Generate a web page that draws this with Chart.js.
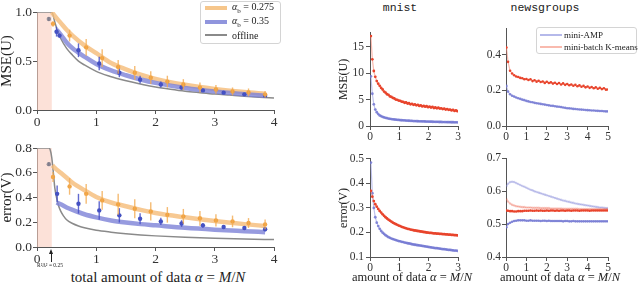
<!DOCTYPE html>
<html>
<head>
<meta charset="utf-8">
<script src="https://cdn.jsdelivr.net/npm/chart.js@4.4.0/dist/chart.umd.min.js"></script>
<style>
  body { margin: 0; background: #fff; }
  #fig { position: relative; width: 640px; height: 285px; overflow: hidden; font-family: "Liberation Serif", serif; color: #222; }
  #fig canvas { position: absolute; z-index: 1; }
  .txt { position: absolute; white-space: nowrap; z-index: 2; }
  .legend { position: absolute; background: rgba(255,255,255,0.9); border: 1px solid #d4d4d4; border-radius: 3px; box-sizing: border-box; z-index: 3; }
  .legend .row { position: absolute; left: 0; right: 0; height: 0; }
  .legend .sw { position: absolute; }
  .legend .lb { position: absolute; transform: translateY(-50%); white-space: nowrap; }
</style>
</head>
<body>
<div id="fig">
  <div class="txt" style="left:400px;top:6.5px;transform:translate(-50%,-50%);font:11.5px 'Liberation Mono',monospace;">mnist</div>
  <div class="txt" style="left:545px;top:6.5px;transform:translate(-50%,-50%);font:11.5px 'Liberation Mono',monospace;">newsgroups</div>

  <div class="txt" style="left:158px;top:276.5px;transform:translate(-50%,-50%);font-size:15px;">total amount of data <i>α</i> = <i>M</i>/<i>N</i></div>
  <div class="txt" style="left:412px;top:277px;transform:translate(-50%,-50%);font-size:12.5px;">amount of data <i>α</i> = <i>M</i>/<i>N</i></div>
  <div class="txt" style="left:560px;top:277px;transform:translate(-50%,-50%);font-size:12.5px;">amount of data <i>α</i> = <i>M</i>/<i>N</i></div>

  <div class="legend" style="left:200px;top:1px;width:81px;height:43px;font-size:10px;">
    <div class="row" style="top:5.5px"><div class="sw" style="left:4px;width:22px;top:-2px;height:4px;background:rgba(244,184,110,0.8)"></div><div class="lb" style="left:31px"><i>α</i><sub style="font-size:7px">b</sub> = 0.275</div></div>
    <div class="row" style="top:19.5px"><div class="sw" style="left:4px;width:22px;top:-2px;height:4px;background:rgba(125,130,215,0.85)"></div><div class="lb" style="left:31px"><i>α</i><sub style="font-size:7px">b</sub> = 0.35</div></div>
    <div class="row" style="top:33px"><div class="sw" style="left:4px;width:22px;top:-0.75px;height:1.5px;background:#8a8a8a"></div><div class="lb" style="left:31px">offline</div></div>
  </div>

  <div class="legend" style="left:536px;top:27px;width:101px;height:27px;font-size:9px;">
    <div class="row" style="top:6.5px"><div class="sw" style="left:3px;width:22px;top:-1px;height:2px;background:rgba(150,155,225,0.7)"></div><div class="lb" style="left:27px">mini-AMP</div></div>
    <div class="row" style="top:18.5px"><div class="sw" style="left:3px;width:22px;top:-1px;height:2px;background:rgba(245,140,120,0.6)"></div><div class="lb" style="left:27px">mini-batch K-means</div></div>
  </div>

  <div style="position:absolute;left:51.3px;top:253px;width:1px;height:9px;background:#222;z-index:2"></div>
  <div style="position:absolute;left:49px;top:249px;width:0;height:0;border-left:2.8px solid transparent;border-right:2.8px solid transparent;border-bottom:5px solid #222;z-index:2"></div>
  <div class="txt" style="left:37px;top:262px;font-size:5.5px;">R²Δ² = 0.25</div>
</div>
<script>
// ---- left panels: theory + simulations ----
const shadeEnd = 0.25;

const mseGreyA = [0, 0.25, 0.3, 0.35, 0.4, 0.5, 0.6, 0.7, 0.8, 1.0, 1.2, 1.4, 1.6, 1.8, 2.0, 2.25, 2.5, 2.75, 3.0, 3.25, 3.5, 3.75, 4.0];
const mseGrey = [1.0, 1.0, 0.9, 0.8, 0.73, 0.63, 0.56, 0.5, 0.46, 0.395, 0.35, 0.315, 0.285, 0.258, 0.235, 0.212, 0.192, 0.177, 0.163, 0.152, 0.141, 0.131, 0.122];
const mseOrangeA = [0.25, 0.3, 0.4, 0.5, 0.6, 0.8, 1.0, 1.25, 1.5, 1.75, 2.0, 2.5, 3.0, 3.5, 3.85];
const mseOrange = [1.0, 0.96, 0.89, 0.82, 0.76, 0.66, 0.58, 0.48, 0.415, 0.36, 0.318, 0.258, 0.215, 0.183, 0.165];
const mseBlueA = [0.33, 0.4, 0.5, 0.6, 0.8, 1.0, 1.25, 1.5, 1.75, 2.0, 2.5, 3.0, 3.5, 3.85];
const mseBlue = [0.82, 0.77, 0.69, 0.63, 0.545, 0.47, 0.405, 0.355, 0.312, 0.277, 0.225, 0.188, 0.162, 0.146];

const orangePtsA = [0.27, 0.55, 0.83, 1.10, 1.37, 1.65, 1.92, 2.20, 2.47, 2.75, 3.02, 3.30, 3.57, 3.85];
const mseOrangePts = [0.88, 0.76, 0.64, 0.53, 0.44, 0.38, 0.33, 0.29, 0.26, 0.23, 0.21, 0.19, 0.18, 0.16];
const mseOrangeErr = [0.03, 0.06, 0.085, 0.09, 0.07, 0.07, 0.065, 0.06, 0.055, 0.05, 0.045, 0.04, 0.04, 0.035];
const mseBluePtsA = [0.33, 0.38, 0.70, 1.05, 1.39, 1.74, 2.09, 2.44, 2.80, 3.15, 3.50, 3.85];
const mseBluePts = [0.80, 0.76, 0.61, 0.475, 0.38, 0.31, 0.26, 0.23, 0.20, 0.177, 0.16, 0.145];
const mseBlueErr = [0.05, 0.02, 0.07, 0.07, 0.045, 0.04, 0.03, 0.02, 0.015, 0.015, 0.012, 0.012];
const offlinePtsA = [0.20];
const mseOfflinePts = [0.93];
const mseOfflineErr = [0.02];

const errGreyA = [0, 0.2, 0.22, 0.25, 0.28, 0.3, 0.33, 0.36, 0.4, 0.45, 0.5, 0.6, 0.7, 0.8, 1.0, 1.25, 1.5, 1.75, 2.0, 2.5, 3.0, 3.5, 4.0];
const errGrey = [0.8, 0.8, 0.79, 0.72, 0.58, 0.48, 0.40, 0.34, 0.29, 0.25, 0.22, 0.19, 0.17, 0.155, 0.135, 0.12, 0.108, 0.098, 0.09, 0.078, 0.07, 0.064, 0.06];
const errOrangeA = [0.26, 0.3, 0.4, 0.5, 0.6, 0.8, 1.0, 1.25, 1.5, 1.75, 2.0, 2.5, 3.0, 3.5, 3.85];
const errOrange = [0.66, 0.64, 0.60, 0.56, 0.52, 0.46, 0.405, 0.36, 0.33, 0.30, 0.275, 0.24, 0.21, 0.185, 0.17];
const errBlueA = [0.33, 0.4, 0.5, 0.6, 0.8, 1.0, 1.25, 1.5, 1.75, 2.0, 2.5, 3.0, 3.5, 3.85];
const errBlue = [0.36, 0.345, 0.32, 0.30, 0.265, 0.24, 0.215, 0.198, 0.185, 0.175, 0.155, 0.14, 0.128, 0.12];

const errOrangePts = [0.566, 0.49, 0.43, 0.377, 0.345, 0.31, 0.288, 0.26, 0.248, 0.232, 0.215, 0.207, 0.194, 0.183];
const errOrangeErr = [0.04, 0.067, 0.08, 0.075, 0.085, 0.077, 0.074, 0.063, 0.06, 0.06, 0.05, 0.047, 0.04, 0.04];
const errBluePtsA = [0.34, 0.70, 1.05, 1.39, 1.74, 2.09, 2.44, 2.80, 3.15, 3.50, 3.85];
const errBluePts = [0.43, 0.35, 0.296, 0.256, 0.229, 0.207, 0.19, 0.175, 0.162, 0.154, 0.143];
const errBlueErr = [0.067, 0.08, 0.075, 0.058, 0.045, 0.03, 0.027, 0.02, 0.015, 0.012, 0.015];
const errOfflinePts = [0.67];
const errOfflineErr = [0.015];

// ---- mnist ----
const mnistAlpha = [0.03, 0.08, 0.13, 0.18, 0.23, 0.28, 0.33, 0.38, 0.43, 0.48,
  0.53, 0.58, 0.63, 0.68, 0.73, 0.78, 0.83, 0.88, 0.93, 0.98,
  1.03, 1.08, 1.13, 1.18, 1.23, 1.28, 1.33, 1.38, 1.43, 1.48,
  1.53, 1.58, 1.63, 1.68, 1.73, 1.78, 1.83, 1.88, 1.93, 1.98,
  2.03, 2.08, 2.13, 2.18, 2.23, 2.28, 2.33, 2.38, 2.43, 2.48,
  2.53, 2.58, 2.63, 2.68, 2.73, 2.78, 2.83, 2.88, 2.93, 2.98];
const mnistMseKm = [17.0, 12.6, 10.4, 9.3, 8.5, 8.0, 7.6, 7.2, 6.9, 6.5,
  6.3, 6.0, 5.9, 5.6, 5.5, 5.3, 5.2, 5.0, 4.95, 4.8,
  4.75, 4.6, 4.55, 4.4, 4.45, 4.25, 4.3, 4.1, 4.2, 4.0,
  4.1, 3.9, 4.0, 3.8, 3.9, 3.7, 3.8, 3.65, 3.75, 3.55,
  3.65, 3.5, 3.6, 3.4, 3.5, 3.35, 3.45, 3.3, 3.35, 3.2,
  3.3, 3.1, 3.2, 3.05, 3.1, 2.95, 3.05, 2.85, 2.95, 2.8];
const mnistMseAmp = [9.4, 6.1, 4.1, 3.1, 2.6, 2.25, 2.0, 1.85, 1.72, 1.62,
  1.54, 1.47, 1.41, 1.36, 1.31, 1.27, 1.23, 1.2, 1.17, 1.14,
  1.11, 1.09, 1.07, 1.05, 1.03, 1.01, 0.99, 0.97, 0.96, 0.94,
  0.93, 0.92, 0.9, 0.89, 0.88, 0.87, 0.86, 0.85, 0.84, 0.83,
  0.82, 0.81, 0.8, 0.79, 0.79, 0.78, 0.77, 0.76, 0.76, 0.75,
  0.74, 0.74, 0.73, 0.72, 0.72, 0.71, 0.71, 0.7, 0.7, 0.69];
const mnistErrKm = [0.37, 0.346, 0.328, 0.315, 0.305, 0.296, 0.288, 0.281, 0.274, 0.268,
  0.262, 0.257, 0.252, 0.248, 0.244, 0.240, 0.237, 0.234, 0.231, 0.228,
  0.226, 0.223, 0.221, 0.219, 0.217, 0.215, 0.214, 0.212, 0.211, 0.209,
  0.208, 0.207, 0.206, 0.205, 0.204, 0.203, 0.202, 0.201, 0.200, 0.199,
  0.198, 0.198, 0.197, 0.196, 0.196, 0.195, 0.195, 0.194, 0.194, 0.193,
  0.193, 0.192, 0.192, 0.191, 0.191, 0.190, 0.190, 0.189, 0.189, 0.188];
const mnistErrAmp = [0.485, 0.36, 0.30, 0.262, 0.24, 0.226, 0.215, 0.206, 0.199, 0.194,
  0.189, 0.185, 0.181, 0.178, 0.175, 0.173, 0.171, 0.169, 0.167, 0.165,
  0.164, 0.162, 0.161, 0.159, 0.158, 0.156, 0.155, 0.154, 0.152, 0.151,
  0.150, 0.149, 0.148, 0.147, 0.146, 0.145, 0.144, 0.143, 0.142, 0.141,
  0.140, 0.139, 0.138, 0.137, 0.136, 0.136, 0.135, 0.134, 0.133, 0.132,
  0.132, 0.131, 0.130, 0.129, 0.129, 0.128, 0.127, 0.126, 0.126, 0.125];

// ---- newsgroups ----
const ngAlpha = [0.02, 0.1, 0.2, 0.3, 0.4, 0.5, 0.6, 0.7, 0.8, 0.9,
  1.0, 1.1, 1.2, 1.3, 1.4, 1.5, 1.6, 1.7, 1.8, 1.9,
  2.0, 2.1, 2.2, 2.3, 2.4, 2.5, 2.6, 2.7, 2.8, 2.9,
  3.0, 3.1, 3.2, 3.3, 3.4, 3.5, 3.6, 3.7, 3.8, 3.9,
  4.0, 4.1, 4.2, 4.3, 4.4, 4.5, 4.6, 4.7, 4.8, 4.9, 5.0];
const ngMseKm = [0.440, 0.360, 0.310, 0.295, 0.285, 0.278, 0.275, 0.270, 0.268, 0.262,
  0.264, 0.258, 0.262, 0.252, 0.257, 0.249, 0.254, 0.247, 0.250, 0.242,
  0.248, 0.241, 0.245, 0.238, 0.243, 0.236, 0.241, 0.233, 0.239, 0.231,
  0.236, 0.229, 0.233, 0.226, 0.231, 0.223, 0.228, 0.220, 0.225, 0.217,
  0.222, 0.214, 0.219, 0.212, 0.217, 0.209, 0.214, 0.207, 0.212, 0.204, 0.205];
const ngMseAmp = [0.225, 0.193, 0.178, 0.170, 0.165, 0.160, 0.156, 0.152, 0.148, 0.145,
  0.141, 0.138, 0.135, 0.133, 0.130, 0.128, 0.126, 0.124, 0.122, 0.120,
  0.118, 0.116, 0.114, 0.113, 0.111, 0.109, 0.108, 0.106, 0.104, 0.102,
  0.100, 0.099, 0.098, 0.096, 0.095, 0.094, 0.093, 0.092, 0.091, 0.090,
  0.089, 0.088, 0.087, 0.087, 0.086, 0.085, 0.084, 0.084, 0.083, 0.082, 0.082];
const ngErrAmpFaded = [0.615, 0.622, 0.627, 0.628, 0.627, 0.624, 0.621, 0.618, 0.615, 0.613,
  0.610, 0.607, 0.604, 0.602, 0.599, 0.597, 0.595, 0.593, 0.591, 0.589,
  0.587, 0.585, 0.583, 0.581, 0.579, 0.577, 0.575, 0.573, 0.571, 0.570,
  0.568, 0.567, 0.565, 0.564, 0.562, 0.561, 0.560, 0.559, 0.558, 0.557,
  0.556, 0.555, 0.554, 0.553, 0.552, 0.551, 0.550, 0.550, 0.549, 0.548, 0.548];
const ngErrKmFaded = [0.575, 0.568, 0.562, 0.558, 0.556, 0.554, 0.553, 0.552, 0.551, 0.551,
  0.550, 0.550, 0.550, 0.549, 0.549, 0.549, 0.549, 0.548, 0.548, 0.548,
  0.548, 0.548, 0.547, 0.547, 0.547, 0.547, 0.547, 0.547, 0.546, 0.546,
  0.546, 0.546, 0.546, 0.546, 0.546, 0.546, 0.545, 0.545, 0.545, 0.545,
  0.545, 0.545, 0.545, 0.545, 0.545, 0.545, 0.545, 0.545, 0.545, 0.545, 0.545];
const ngErrKm = [0.541, 0.540, 0.539, 0.539, 0.538, 0.538, 0.539, 0.539, 0.539, 0.540,
  0.540, 0.540, 0.541, 0.540, 0.540, 0.541, 0.540, 0.541, 0.540, 0.540,
  0.541, 0.540, 0.541, 0.541, 0.540, 0.541, 0.540, 0.541, 0.541, 0.540,
  0.541, 0.541, 0.540, 0.541, 0.541, 0.541, 0.540, 0.541, 0.541, 0.541,
  0.541, 0.540, 0.541, 0.541, 0.541, 0.541, 0.541, 0.541, 0.541, 0.541, 0.541];
const ngErrAmp = [0.490, 0.500, 0.504, 0.507, 0.509, 0.510, 0.511, 0.511, 0.511, 0.511,
  0.510, 0.510, 0.511, 0.510, 0.510, 0.510, 0.510, 0.509, 0.510, 0.510,
  0.509, 0.510, 0.509, 0.509, 0.509, 0.509, 0.509, 0.509, 0.508, 0.509,
  0.509, 0.508, 0.508, 0.509, 0.508, 0.508, 0.508, 0.508, 0.508, 0.508,
  0.508, 0.508, 0.508, 0.508, 0.508, 0.508, 0.508, 0.508, 0.508, 0.508, 0.508];

// colours
const cOrange = 'rgba(245,188,120,0.8)', cOrangeMk = 'rgba(240,160,60,0.95)', cOrangeErr = 'rgba(243,170,80,0.8)';
const cBlue = 'rgba(125,130,215,0.8)', cBlueMk = '#4452c0', cBlueErr = 'rgba(70,80,200,0.85)';
const cGrey = '#8a8a8a', cOffMk = 'rgba(120,120,135,0.8)';
const cAmp = 'rgba(150,155,225,0.6)', cAmpMk = 'rgba(115,120,210,0.85)';
const cKm = 'rgba(245,140,120,0.6)', cKmMk = '#e8442c';
const cAmpF = 'rgba(150,155,225,0.35)', cAmpMkF = 'rgba(115,120,210,0.3)';
const cKmF = 'rgba(245,140,120,0.35)', cKmMkF = 'rgba(232,68,44,0.25)';

const pts = (xs, ys) => xs.map((x, i) => ({ x: x, y: ys[i] }));

function theory(xs, ys, color, width, order) {
  return { data: pts(xs, ys), showLine: true, borderColor: color, borderWidth: width, pointRadius: 0,
    cubicInterpolationMode: 'monotone', order: order };
}
function sims(xs, ys, color, errs, errColor) {
  return { data: pts(xs, ys), showLine: false, pointRadius: 2.2, pointBackgroundColor: color,
    pointBorderWidth: 0, order: 1, errorBars: errs, errorColor: errColor };
}
function dotted(xs, ys, lineColor, dotColor, r, order) {
  return { data: pts(xs, ys), showLine: true, borderColor: lineColor, borderWidth: 1.2, pointRadius: r,
    pointBackgroundColor: dotColor, pointBorderWidth: 0, order: order };
}

const shadePlugin = {
  id: 'shade',
  beforeDatasetsDraw(chart, args, opts) {
    if (opts.to == null) return;
    const { ctx, chartArea, scales: { x } } = chart;
    const x0 = x.getPixelForValue(0), x1 = x.getPixelForValue(opts.to);
    ctx.save();
    ctx.fillStyle = 'rgba(250,205,190,0.6)';
    ctx.fillRect(x0, chartArea.top, x1 - x0, chartArea.bottom - chartArea.top);
    ctx.restore();
  }
};
const errorBarPlugin = {
  id: 'errorBars',
  afterDatasetDraw(chart, args) {
    const ds = chart.data.datasets[args.index];
    if (!ds.errorBars) return;
    const { ctx, scales: { x, y } } = chart;
    ctx.save();
    ctx.strokeStyle = ds.errorColor;
    ctx.lineWidth = 1.4;
    ds.data.forEach((p, j) => {
      const e = ds.errorBars[j];
      const px = x.getPixelForValue(p.x);
      ctx.beginPath();
      ctx.moveTo(px, y.getPixelForValue(p.y - e));
      ctx.lineTo(px, y.getPixelForValue(p.y + e));
      ctx.stroke();
    });
    ctx.restore();
  }
};

const fig = document.getElementById('fig');
const serif = 'Liberation Serif';

function panel(p) {
  const left = p.l - p.yW, top = p.t - p.padT;
  const w = p.r + p.padR - left, h = p.b + p.xH - top;
  const cv = document.createElement('canvas');
  cv.width = w; cv.height = h;
  cv.style.left = left + 'px'; cv.style.top = top + 'px';
  cv.style.width = w + 'px'; cv.style.height = h + 'px';
  fig.appendChild(cv);
  const axisCol = '#555';
  return new Chart(cv.getContext('2d'), {
    type: 'scatter',
    data: { datasets: p.datasets },
    plugins: [shadePlugin, errorBarPlugin],
    options: {
      responsive: false, animation: false, devicePixelRatio: 1,
      layout: { padding: { top: p.padT, right: p.padR, left: 0, bottom: 0 } },
      plugins: { legend: { display: false }, tooltip: { enabled: false }, shade: { to: p.shade } },
      scales: {
        x: {
          type: 'linear', min: p.xMin, max: p.xMax,
          afterFit: s => { s.height = p.xH; },
          ticks: { stepSize: 1, includeBounds: false, maxRotation: 0, padding: 0, color: '#333',
            font: { family: serif, size: p.tickSize }, callback: v => v },
          grid: { drawOnChartArea: false, tickLength: 4, color: axisCol },
          border: { color: axisCol }
        },
        y: {
          type: 'linear', min: p.yMin, max: p.yMax,
          afterFit: s => { s.width = p.yW; },
          ticks: { stepSize: p.yStep, includeBounds: false, padding: p.tickPad, color: '#333',
            font: { family: serif, size: p.tickSize }, callback: v => v.toFixed(p.yDec) },
          grid: { drawOnChartArea: false, tickLength: 4, color: axisCol },
          border: { color: axisCol },
          title: { display: !!p.yTitle, text: p.yTitle, color: '#222', padding: { top: p.yTitlePad || 0, bottom: 0 },
            font: { family: serif, size: p.yTitleSize, lineHeight: 1.0 } }
        }
      }
    }
  });
}

// top left: MSE(U)
panel({ l: 37, t: 12, r: 274, b: 110, yW: 37, xH: 20, padT: 9, padR: 8,
  xMin: 0, xMax: 4, yMin: 0, yMax: 1, yStep: 0.5, yDec: 1, tickSize: 13.5, tickPad: 1,
  yTitle: 'MSE(U)', yTitleSize: 15, shade: shadeEnd,
  datasets: [
    theory(mseGreyA, mseGrey, cGrey, 1.5, 4),
    theory(mseOrangeA, mseOrange, cOrange, 4.5, 3),
    theory(mseBlueA, mseBlue, cBlue, 4.5, 2),
    sims(orangePtsA, mseOrangePts, cOrangeMk, mseOrangeErr, cOrangeErr),
    sims(mseBluePtsA, mseBluePts, cBlueMk, mseBlueErr, cBlueErr),
    sims(offlinePtsA, mseOfflinePts, cOffMk, mseOfflineErr, cOffMk)
  ] });

// bottom left: error(V)
panel({ l: 37, t: 148, r: 274, b: 247, yW: 37, xH: 20, padT: 9, padR: 8,
  xMin: 0, xMax: 4, yMin: 0, yMax: 0.8, yStep: 0.2, yDec: 1, tickSize: 13.5, tickPad: 1,
  yTitle: 'error(V)', yTitleSize: 15, shade: shadeEnd,
  datasets: [
    theory(errGreyA, errGrey, cGrey, 1.5, 4),
    theory(errOrangeA, errOrange, cOrange, 4.5, 3),
    theory(errBlueA, errBlue, cBlue, 4.5, 2),
    sims(orangePtsA, errOrangePts, cOrangeMk, errOrangeErr, cOrangeErr),
    sims(errBluePtsA, errBluePts, cBlueMk, errBlueErr, cBlueErr),
    sims(offlinePtsA, errOfflinePts, cOffMk, errOfflineErr, cOffMk)
  ] });

// mnist MSE
panel({ l: 370, t: 32, r: 458, b: 126, yW: 34, xH: 20, padT: 8, padR: 6,
  xMin: 0, xMax: 3, yMin: 0, yMax: 17.6, yStep: 5, yDec: 0, tickSize: 11.5, tickPad: 2,
  yTitle: 'MSE(U)', yTitleSize: 12, yTitlePad: 2,
  datasets: [
    dotted(mnistAlpha, mnistMseAmp, cAmp, cAmpMk, 1.4, 2),
    dotted(mnistAlpha, mnistMseKm, cKm, cKmMk, 1.4, 1)
  ] });

// newsgroups MSE
panel({ l: 506, t: 28, r: 608, b: 126, yW: 22, xH: 20, padT: 8, padR: 6,
  xMin: 0, xMax: 5, yMin: 0, yMax: 0.55, yStep: 0.2, yDec: 1, tickSize: 11.5, tickPad: 1,
  datasets: [
    dotted(ngAlpha, ngMseAmp, cAmp, cAmpMk, 1.3, 2),
    dotted(ngAlpha, ngMseKm, cKm, cKmMk, 1.3, 1)
  ] });

// mnist error
panel({ l: 370, t: 158, r: 458, b: 257, yW: 34, xH: 20, padT: 8, padR: 6,
  xMin: 0, xMax: 3, yMin: 0.1, yMax: 0.5, yStep: 0.1, yDec: 1, tickSize: 11.5, tickPad: 2,
  yTitle: 'error(V)', yTitleSize: 12, yTitlePad: 2,
  datasets: [
    dotted(mnistAlpha, mnistErrAmp, cAmp, cAmpMk, 1.4, 2),
    dotted(mnistAlpha, mnistErrKm, cKm, cKmMk, 1.4, 1)
  ] });

// newsgroups error
panel({ l: 506, t: 158, r: 608, b: 257, yW: 22, xH: 20, padT: 8, padR: 6,
  xMin: 0, xMax: 5, yMin: 0.4, yMax: 0.7, yStep: 0.1, yDec: 1, tickSize: 11.5, tickPad: 1,
  datasets: [
    dotted(ngAlpha, ngErrAmpFaded, cAmpF, cAmpMkF, 1.3, 4),
    dotted(ngAlpha, ngErrKmFaded, cKmF, cKmMkF, 1.3, 3),
    dotted(ngAlpha, ngErrAmp, cAmp, cAmpMk, 1.3, 2),
    dotted(ngAlpha, ngErrKm, cKm, cKmMk, 1.3, 1)
  ] });
</script>
</body>
</html>
